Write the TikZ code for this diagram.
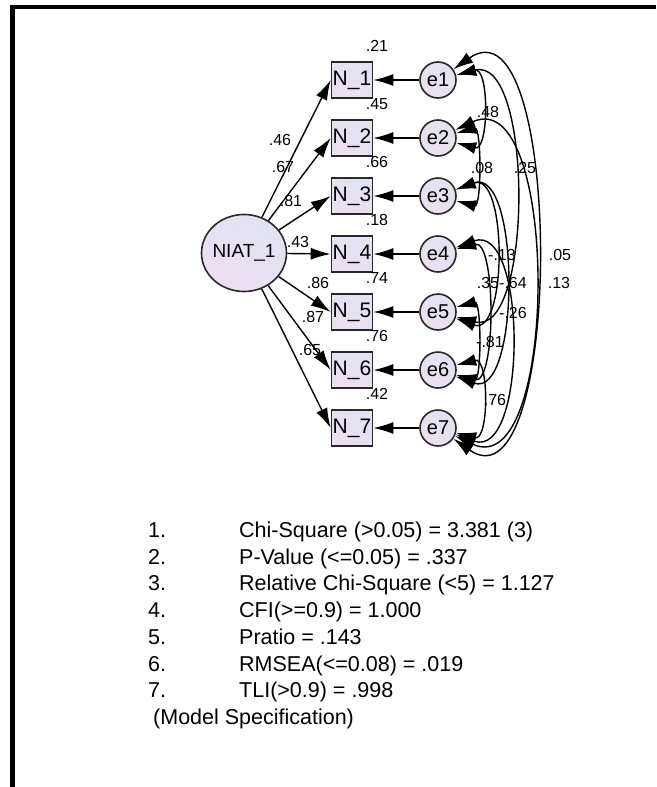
\documentclass[tikz,border=0pt]{standalone}
\usepackage{fontspec}
\setmainfont{Liberation Sans}
\usetikzlibrary{arrows.meta,shapes.geometric}

\definecolor{gradA}{RGB}{224,228,242}
\definecolor{gradB}{RGB}{238,222,242}
\definecolor{edgegray}{RGB}{40,40,40}

\tikzset{
  shadefill/.style={top color=gradA, bottom color=gradB, shading angle=-30},
  obsbox/.style={draw=edgegray, line width=1.6pt, shadefill, minimum width=41pt,
    minimum height=36pt, inner sep=0pt, font=\fontsize{21}{21}\selectfont},
  errcirc/.style={circle, draw=edgegray, line width=1.6pt, shadefill, minimum size=36pt,
    inner sep=0pt, font=\fontsize{20}{20}\selectfont},
  latent/.style={ellipse, draw=edgegray, line width=1.6pt, shadefill, minimum width=85pt,
    minimum height=77pt, inner sep=0pt},
  regarrow/.style={-{Latex[length=20pt,width=12pt]}, line width=1.4pt},
  covarrow/.style={{Latex[length=20pt,width=12pt]}-{Latex[length=20pt,width=12pt]}, line width=1.4pt},
  est/.style={font=\fontsize{16}{16}\selectfont, inner sep=0pt},
  fitline/.style={font=\fontsize{21.5}{21.5}\selectfont, anchor=base west, inner sep=0pt}
}

\begin{document}
\begin{tikzpicture}[x=1pt,y=1pt]
  \useasboundingbox (0,0) rectangle (656,-787);
  % frame
  \draw[line width=4.5pt] (12.5,-787) -- (12.5,-7) -- (656,-7);

  % latent factor
  \node[latent, label={[font=\fontsize{19}{19}\selectfont]center:NIAT\_1}] (niat) at (244,-253) {};

  % indicators and errors
  \foreach \i in {1,...,7} {
    \node[obsbox] (n\i) at (352,{-80-58*(\i-1)}) {N\_\i};
    \node[errcirc] (e\i) at (438,{-80-58*(\i-1)}) {e\i};
    \draw[regarrow] (e\i) -- (n\i);
    \draw[regarrow] (niat) -- (n\i.west);
  }

  % squared multiple correlations
  \foreach \i/\v in {1/.21,2/.45,3/.66,4/.18,5/.74,6/.76,7/.42}
    \node[est] (r\i) at ([xshift=25pt,yshift=15pt]n\i.north) {\v};

  % loadings
  \node[est] (l1) at (280,-140) {.46};
  \node[est] (l2) at (283,-167) {.67};
  \node[est] (l3) at (291,-201) {.81};
  \node[est] (l4) at (298,-242) {.43};
  \node[est] (l5) at (318,-283) {.86};
  \node[est] (l6) at (313,-317) {.87};
  \node[est] (l7) at (310,-350) {.65};

  % error covariances
  \draw[covarrow] (e1) to[out=15,in=-15,looseness=1.3] (e2);
  \draw[covarrow] (e2) to[out=15,in=-15,looseness=1.0] (e3);
  \draw[covarrow] (e1) to[out=15,in=-15,looseness=0.85] (e5);
  \draw[covarrow] (e1) to[out=35,in=-35,looseness=0.94] (e7);
  \draw[covarrow] (e2) to[out=25,in=-25,looseness=0.97] (e7);
  \draw[covarrow] (e3) to[out=20,in=-20,looseness=0.95] (e6);
  \draw[covarrow] (e3) to[out=20,in=-20,looseness=1.1] (e5);
  \draw[covarrow] (e4) to[out=15,in=-15,looseness=0.85] (e6);
  \draw[covarrow] (e4) to[out=20,in=-20,looseness=1.05] (e7);
  \draw[covarrow] (e5) to[out=15,in=-15,looseness=1.0] (e6);
  \draw[covarrow] (e6) to[out=15,in=-15,looseness=1.3] (e7);

  \node[est] (c12) at (488,-112) {.48};
  \node[est] (c23) at (482,-168) {.08};
  \node[est] (c15) at (525,-168) {.25};
  \node[est] (c35) at (502,-255) {-.13};
  \node[est] (c17) at (560,-255) {.05};
  \node[est] (c27) at (559,-283) {.13};
  \node[est] (c46) at (488,-283) {.35};
  \node[est] (c36) at (513,-283) {-.64};
  \node[est] (c47) at (513,-313) {-.26};
  \node[est] (c56) at (490,-342) {-.81};
  \node[est] (c67) at (495,-400) {.76};

  % fit indices
  \foreach \k/\txt in {1/{Chi-Square (>0.05) = 3.381 (3)},
                       2/{P-Value (<=0.05) = .337},
                       3/{Relative Chi-Square (<5) = 1.127},
                       4/{CFI(>=0.9) = 1.000},
                       5/{Pratio = .143},
                       6/{RMSEA(<=0.08) = .019},
                       7/{TLI(>0.9) = .998}} {
    \node[fitline] (num\k) at (148,{-537.5-26.7*(\k-1)}) {\k.};
    \node[fitline] (fit\k) at (239,{-537.5-26.7*(\k-1)}) {\txt};
  }
  \node[fitline] (spec) at (153,-724.5) {(Model Specification)};
\end{tikzpicture}
\end{document}
